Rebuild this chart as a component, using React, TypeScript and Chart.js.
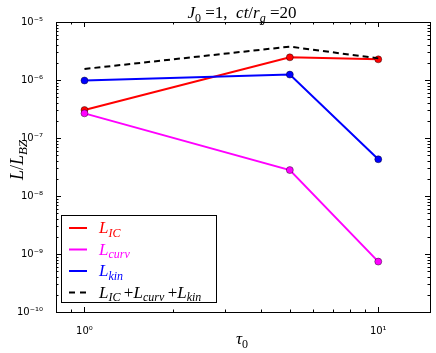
import React, { useEffect, useRef } from "react";
import { Chart, registerables } from "chart.js";

Chart.register(...registerables);

const TAU = [1, 5, 10];
const L_IC = [3.04e-7, 2.46e-6, 2.27e-6];
const L_CURV = [2.66e-7, 2.8e-8, 7.4e-10];
const L_KIN = [9.8e-7, 1.24e-6, 4.3e-8];
const L_SUM = [1.55e-6, 3.76e-6, 2.36e-6];

const X_MIN = 0.8;
const X_MAX = 15;
const Y_MIN = 1e-10;
const Y_MAX = 1e-5;

const SUP: Record<string, string> = { "-": "⁻", "0": "⁰", "1": "¹", "2": "²", "3": "³", "4": "⁴", "5": "⁵", "6": "⁶", "7": "⁷", "8": "⁸", "9": "⁹" };
function decadeLabel(v: number): string {
  const e = Math.round(Math.log10(v));
  if (Math.abs(Math.log10(v) - e) > 1e-6) return "";
  return "10" + String(e).split("").map((c) => SUP[c]).join("");
}

type Part = { t: string; it?: boolean; sub?: boolean };
const SERIF = '"Liberation Serif", serif';

function partFont(p: Part, size: number) {
  return `${p.it ? "italic " : ""}${p.sub ? Math.round(size * 0.72) : size}px ${SERIF}`;
}
function mathWidth(ctx: CanvasRenderingContext2D, parts: Part[], size: number) {
  let w = 0;
  for (const p of parts) {
    ctx.font = partFont(p, size);
    w += ctx.measureText(p.t).width;
  }
  return w;
}
function drawMath(ctx: CanvasRenderingContext2D, x: number, y: number, parts: Part[], size: number, align: "left" | "center", color: string) {
  let cx = align === "center" ? x - mathWidth(ctx, parts, size) / 2 : x;
  ctx.fillStyle = color;
  ctx.textAlign = "left";
  ctx.textBaseline = "alphabetic";
  for (const p of parts) {
    ctx.font = partFont(p, size);
    ctx.fillText(p.t, cx, p.sub ? y + size * 0.22 : y);
    cx += ctx.measureText(p.t).width;
  }
}

const TITLE: Part[] = [
  { t: "J", it: true }, { t: "0", sub: true }, { t: " =1,  " }, { t: "ct", it: true }, { t: "/" }, { t: "r", it: true }, { t: "g", it: true, sub: true }, { t: " =20" },
];
const Y_TITLE: Part[] = [{ t: "L", it: true }, { t: "/" }, { t: "L", it: true }, { t: "BZ", it: true, sub: true }];
const X_TITLE: Part[] = [{ t: "τ", it: true }, { t: "0", sub: true }];

const LEGEND: { parts: Part[]; color: string; dash: number[] }[] = [
  { parts: [{ t: "L", it: true }, { t: "IC", it: true, sub: true }], color: "#ff0000", dash: [] },
  { parts: [{ t: "L", it: true }, { t: "curv", it: true, sub: true }], color: "#ff00ff", dash: [] },
  { parts: [{ t: "L", it: true }, { t: "kin", it: true, sub: true }], color: "#0000ff", dash: [] },
  {
    parts: [
      { t: "L", it: true }, { t: "IC", it: true, sub: true }, { t: "\u2009+" }, { t: "L", it: true }, { t: "curv", it: true, sub: true }, { t: "\u2009+" }, { t: "L", it: true }, { t: "kin", it: true, sub: true },
    ],
    color: "#000000",
    dash: [6, 5],
  },
];

const decorPlugin = {
  id: "decor",
  afterDraw(chart: any) {
    const ctx: CanvasRenderingContext2D = chart.ctx;
    const { left, right, top, bottom } = chart.chartArea;
    const xs = chart.scales.x;
    const ys = chart.scales.y;
    ctx.save();
    ctx.strokeStyle = "#000";
    ctx.lineWidth = 1;
    ctx.setLineDash([]);
    ctx.strokeRect(Math.round(left) + 0.5, Math.round(top) + 0.5, Math.round(right - left), Math.round(bottom - top));
    ctx.beginPath();
    for (let d = -1; d <= 1; d++) {
      for (let m = 1; m <= 9; m++) {
        const v = m * Math.pow(10, d);
        if (v < X_MIN || v > X_MAX) continue;
        const px = Math.round(xs.getPixelForValue(v)) + 0.5;
        const len = m === 1 ? 5 : 2.5;
        ctx.moveTo(px, bottom); ctx.lineTo(px, bottom - len);
        ctx.moveTo(px, top); ctx.lineTo(px, top + len);
      }
    }
    for (let d = -10; d <= -5; d++) {
      for (let m = 1; m <= 9; m++) {
        const v = m * Math.pow(10, d);
        if (v < Y_MIN * 0.999 || v > Y_MAX * 1.001) continue;
        const py = Math.round(ys.getPixelForValue(v)) + 0.5;
        const len = m === 1 ? 5 : 2.5;
        ctx.moveTo(left, py); ctx.lineTo(left + len, py);
        ctx.moveTo(right, py); ctx.lineTo(right - len, py);
      }
    }
    ctx.stroke();
    drawMath(ctx, 242, 18, TITLE, 17, "center", "#000");
    drawMath(ctx, 242, 344, X_TITLE, 17, "center", "#000");
    ctx.save();
    ctx.translate(23, 160);
    ctx.rotate(-Math.PI / 2);
    drawMath(ctx, 0, 0, Y_TITLE, 18, "center", "#000");
    ctx.restore();
    const bx = 61, by = 215, bw = 155, bh = 87;
    ctx.fillStyle = "#fff";
    ctx.fillRect(bx, by, bw, bh);
    ctx.strokeStyle = "#000";
    ctx.lineWidth = 1;
    ctx.strokeRect(bx + 0.5, by + 0.5, bw, bh);
    LEGEND.forEach((e, i) => {
      const ly = 228 + i * 21.5;
      ctx.strokeStyle = e.color;
      ctx.lineWidth = 2;
      ctx.setLineDash(e.dash);
      ctx.beginPath();
      ctx.moveTo(69, ly);
      ctx.lineTo(87, ly);
      ctx.stroke();
      ctx.setLineDash([]);
      drawMath(ctx, 99, ly + 5, e.parts, 17, "left", e.color);
    });
    ctx.restore();
  },
};

function pts(ys: number[]) {
  return TAU.map((x, i) => ({ x, y: ys[i] }));
}

export default function App() {
  const ref = useRef<HTMLCanvasElement | null>(null);
  useEffect(() => {
    document.body.style.margin = "0";
    if (!ref.current) return;
    const lineDs = (label: string, data: number[], color: string) => ({
      label,
      data: pts(data),
      borderColor: color,
      backgroundColor: color,
      borderWidth: 2,
      pointRadius: 3.5,
      pointBackgroundColor: color,
      pointBorderColor: "rgba(0,0,0,0.7)",
      pointBorderWidth: 0.6,
      tension: 0,
    });
    const chart = new Chart(ref.current, {
      type: "line",
      data: {
        datasets: [
          {
            label: "sum",
            data: pts(L_SUM),
            borderColor: "#000",
            borderWidth: 2,
            borderDash: [6, 4],
            pointRadius: 0,
            tension: 0,
          },
          lineDs("curv", L_CURV, "#ff00ff"),
          lineDs("kin", L_KIN, "#0000ff"),
          lineDs("IC", L_IC, "#ff0000"),
        ],
      },
      options: {
        animation: false,
        responsive: false,
        events: [],
        layout: { padding: { top: 22, right: 6, left: 0, bottom: 0 } },
        plugins: { legend: { display: false }, title: { display: false }, tooltip: { enabled: false } },
        scales: {
          x: {
            type: "logarithmic",
            min: X_MIN,
            max: X_MAX,
            grid: { display: false },
            border: { display: false },
            afterFit: (s: any) => { s.height = 41; },
            ticks: {
              autoSkip: false,
              maxRotation: 0,
              padding: 5,
              color: "#000",
              font: { family: '"DejaVu Sans"', size: 10 },
              callback: (v: any) => decadeLabel(Number(v)),
            },
          },
          y: {
            type: "logarithmic",
            min: Y_MIN,
            max: Y_MAX,
            grid: { display: false },
            border: { display: false },
            afterFit: (s: any) => { s.width = 56; },
            ticks: {
              autoSkip: false,
              padding: 5,
              color: "#000",
              font: { family: '"DejaVu Sans"', size: 10 },
              callback: (v: any) => decadeLabel(Number(v)),
            },
          },
        },
      },
      plugins: [decorPlugin],
    } as any);
    return () => chart.destroy();
  }, []);
  return (
    <div style={{ position: "absolute", left: 0, top: 0, width: 436, height: 353 }}>
      <canvas ref={ref} width={436} height={353} style={{ width: 436, height: 353, display: "block" }} />
    </div>
  );
}
